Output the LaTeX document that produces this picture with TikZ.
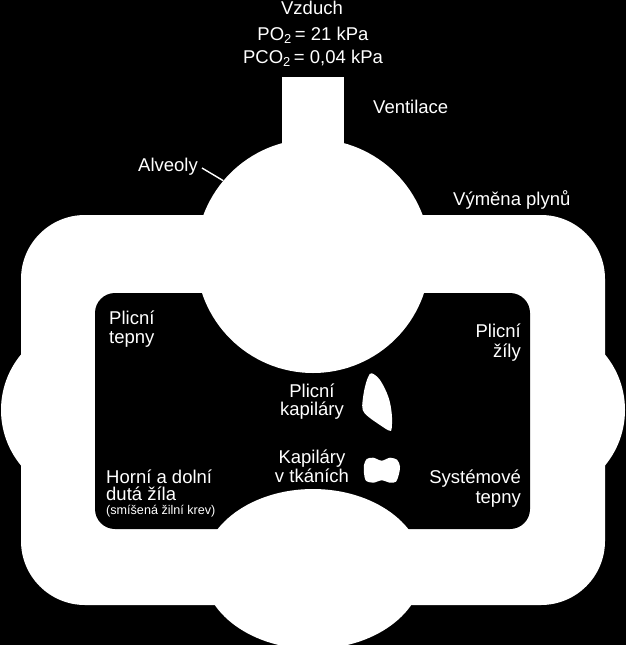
\documentclass[tikz,border=0pt]{standalone}
\usepackage{fontspec}
\setmainfont{Liberation Sans}
\begin{document}
\begin{tikzpicture}[x=1pt,y=-1pt,
  lbl/.style={text=white,inner sep=0pt,font=\fontsize{18.5}{20}\selectfont},
  small/.style={text=white,inner sep=0pt,font=\fontsize{12.6}{14}\selectfont},
  pointer/.style={white,line width=1.4pt}]
\useasboundingbox (0,0) rectangle (626,645);
\fill[black] (0,0) rectangle (626,645);
% side bumps
\fill[white] (88,410) circle[radius=87pt];
\fill[white] (538,410) circle[radius=87pt];
% outer band
\fill[white,rounded corners=64pt] (21,215) rectangle (605,605);
% inner black area
\fill[black,rounded corners=20pt] (95,293) rectangle (530,529);
% alveolus, stem, tissue
\fill[white] (282,77) rectangle (344,200);
\node[circle,fill=white,minimum size=234pt,inner sep=0pt] (alv) at (313,256) {};
\fill[white] (313,569) ellipse[x radius=110pt,y radius=80pt];
% capillaries
\fill[white] plot[smooth cycle,tension=0.6] coordinates {
 (371.7,373.3) (380,380) (388.3,396.7) (391.7,413.3) (391.7,428.3) (389.3,430.7)
 (380,425) (368.3,416.7) (362.7,410) (362.7,400) (365,386.7) (368.3,376.7)};
\fill[white] plot[smooth cycle,tension=0.5] coordinates {
 (366.7,459) (373.3,457.7) (381.7,460.7) (390,457.7) (397.3,460) (400,466.7)
 (398.7,475) (396,481.7) (390,482.7) (381.7,480.3) (373.3,482.7) (366,480.7)
 (364,473.3) (364,465)};
% texts
\node[lbl,anchor=base] (vz) at (312,14) {Vzduch};
\node[lbl,anchor=base] (po) at (313,40) {PO\textsubscript{2}\,= 21 kPa};
\node[lbl,anchor=base] (pco) at (313,63) {PCO\textsubscript{2}\,= 0,04 kPa};
\node[lbl,anchor=base west] (vent) at (373,113) {Ventilace};
\node[lbl,anchor=base west] (alvt) at (138,171) {Alveoly};
\node[lbl,anchor=base west] (vym) at (453,205) {Výměna plynů};
\node[lbl,anchor=base west] (pt1) at (109,324) {Plicní};
\node[lbl,anchor=base west] (pt2) at (109,343) {tepny};
\node[lbl,anchor=base east] (pz1) at (521,337) {Plicní};
\node[lbl,anchor=base east] (pz2) at (521,357) {žíly};
\node[lbl,anchor=base] (pk1) at (312,397) {Plicní};
\node[lbl,anchor=base] (pk2) at (312,415) {kapiláry};
\node[lbl,anchor=base] (kt1) at (312,463) {Kapiláry};
\node[lbl,anchor=base] (kt2) at (312,482) {v tkáních};
\node[lbl,anchor=base west] (hd1) at (106,483) {Horní a dolní};
\node[lbl,anchor=base west] (hd2) at (106,500) {dutá žíla};
\node[small,anchor=base west] (hd3) at (106,514) {(smíšená žilní krev)};
\node[lbl,anchor=base east] (st1) at (521,483) {Systémové};
\node[lbl,anchor=base east] (st2) at (521,503) {tepny};
% Alveoly pointer
\coordinate (alvs) at (202,168);
\draw[pointer] (alvs) -- (alv.140);
\end{tikzpicture}
\end{document}
